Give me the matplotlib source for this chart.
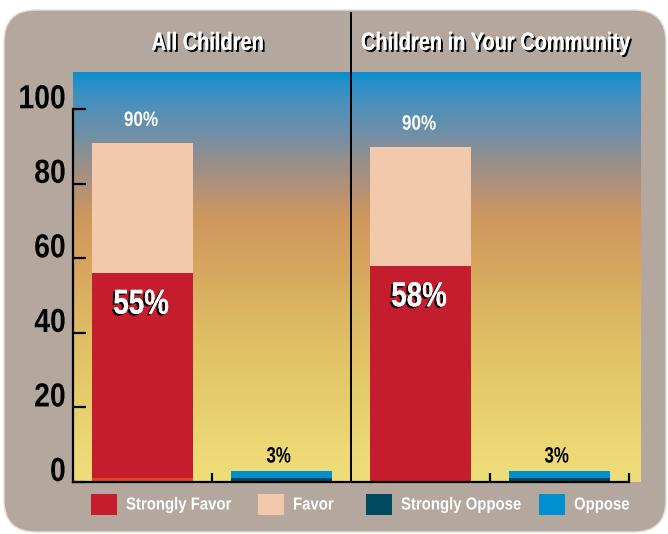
import numpy as np
import matplotlib
matplotlib.use("Agg")
import matplotlib.pyplot as plt
import matplotlib.patheffects as pe
from matplotlib.colors import LinearSegmentedColormap
from matplotlib.patches import FancyBboxPatch, Rectangle
from matplotlib.transforms import ScaledTranslation, Affine2D

# data
groups = ["All Children", "Children in Your Community"]
strongly_favor = [55, 58]
favor = [35, 32]
other = [1, 0]          # thin orange strip under the first bar
strongly_oppose = [1, 1]
oppose = [2, 2]
favor_labels = ["90%", "90%"]
strong_labels = ["55%", "58%"]
oppose_labels = ["3%", "3%"]
yticks = [0, 20, 40, 60, 80, 100]
series = ["Strongly Favor", "Favor", "Strongly Oppose", "Oppose"]

plt.rcParams["font.family"] = ["Liberation Sans", "DejaVu Sans"]

c_sf = "#c41e2e"
c_f = "#f2c9aa"
c_so = "#004a60"
c_o = "#0090d0"
c_other = "#e0471f"
series_colors = [c_sf, c_f, c_so, c_o]
bg = "#b3a79e"


class Squeeze(pe.AbstractPathEffect):
    """squash text horizontally to fake a condensed face"""
    def __init__(self, sx, anchor="center", inner=None):
        super().__init__()
        self.sx = sx
        self.anchor = anchor
        self.inner = inner or [pe.Normal()]

    def draw_path(self, renderer, gc, tpath, affine, rgbFace=None):
        xs = tpath.vertices[:, 0]
        if self.anchor == "right":
            cx = xs.max()
        elif self.anchor == "left":
            cx = xs.min()
        else:
            cx = (xs.min() + xs.max()) / 2
        squeezed = Affine2D().translate(-cx, 0).scale(self.sx, 1).translate(cx, 0) + affine
        for eff in self.inner:
            eff.draw_path(renderer, gc, tpath, squeezed, rgbFace)


def shadow(dx, dy):
    return [pe.withSimplePatchShadow(offset=(dx, dy), shadow_rgbFace="black", alpha=1),
            pe.Normal()]


fig = plt.figure(figsize=(6.68, 5.34), dpi=100)

# rounded background panel
panel = FancyBboxPatch((0.04, 0.02), 6.62, 5.22,
                       boxstyle="round,pad=0,rounding_size=0.32",
                       transform=fig.dpi_scale_trans, facecolor=bg,
                       edgecolor="#e6ded6", linewidth=1, zorder=-10)
fig.patches.append(panel)

ax = fig.add_axes([73 / 668, 52 / 534, 568 / 668, 410 / 534])
ax.set_facecolor("none")
xmax = 3.586
ax.set_xlim(-0.5, xmax)
ax.set_ylim(0, 110)

# sky-like gradient background
stops = [(0, "#eedd7a"), (8, "#edd977"), (22, "#e6cd6c"), (40, "#dfbd64"),
         (59, "#d6a45e"), (72, "#cc975f"), (79, "#b39178"), (86, "#988f8a"),
         (94, "#6e8fa8"), (102, "#4a91bd"), (107, "#2a90c8"), (110, "#0a8ecf")]
cmap = LinearSegmentedColormap.from_list("sky", [(v / 110, c) for v, c in stops])
grad = np.linspace(0, 1, 400).reshape(-1, 1)
ax.imshow(grad, extent=[-0.5, xmax, 0, 110], origin="lower", aspect="auto",
          cmap=cmap, zorder=0)

x = np.arange(len(groups)) * 2
xo = x + 1
w = 0.72
other = np.array(other)
strongly_favor = np.array(strongly_favor)
favor = np.array(favor)

ax.bar(x, other, w, color=c_other, zorder=2)
ax.bar(x, strongly_favor, w, bottom=other, color=c_sf, zorder=2)
ax.bar(x, favor, w, bottom=other + strongly_favor, color=c_f, zorder=2)
ax.bar(xo, strongly_oppose, w, color=c_so, zorder=2)
ax.bar(xo, oppose, w, bottom=strongly_oppose, color=c_o, zorder=2)

top = other + strongly_favor + favor
for i in range(len(groups)):
    ax.text(x[i] - 0.01, top[i] + 6, favor_labels[i], ha="center", va="center",
            color="white", fontsize=15, fontweight="bold", zorder=5,
            path_effects=[Squeeze(0.82)])
    ax.text(x[i] - 0.01, other[i] + strongly_favor[i] - 8.3, strong_labels[i],
            ha="center", va="center", color="white", fontsize=25, fontweight="bold",
            zorder=5, path_effects=[Squeeze(0.8, inner=shadow(-1.5, -1.2))])
    ax.text(xo[i] - 0.02, strongly_oppose[i] + oppose[i] + 3.7, oppose_labels[i],
            ha="center", va="center", color="black", fontsize=16, fontweight="bold",
            zorder=5, path_effects=[Squeeze(0.76)])

# group titles
for gx, name in zip([0.47, 2.54], groups):
    ax.text(gx, 117.8, name, ha="center", va="center", color="white",
            fontsize=18, fontweight="bold", clip_on=False, zorder=5,
            path_effects=[Squeeze(0.8, inner=shadow(1.4, -1.4))])

# divider between the two groups
ax.axvline(1.5, ymin=0, ymax=(482 - 13) / 410, color="black", lw=1.4,
           clip_on=False, zorder=6)

for s in ["top", "right"]:
    ax.spines[s].set_visible(False)
ax.spines["left"].set_bounds(0, 100)
ax.spines["bottom"].set_bounds(-0.5, 3.5)
for s in ["left", "bottom"]:
    ax.spines[s].set_linewidth(1.6)
    ax.spines[s].set_zorder(7)

ax.set_xticks([0.5, 2.5, 3.5])
ax.tick_params(axis="x", direction="in", length=6.5, width=1.6, labelbottom=False)
ax.set_yticks(yticks)
ax.set_yticklabels([str(t) for t in yticks])
ax.tick_params(axis="y", direction="in", length=9.5, width=1.6, pad=5)
off = ScaledTranslation(0, 0.13, fig.dpi_scale_trans)
for lab in ax.get_yticklabels():
    lab.set_fontsize(24)
    lab.set_fontweight("bold")
    lab.set_transform(lab.get_transform() + off)
    lab.set_path_effects([Squeeze(0.85, anchor="right")])

# legend drawn by hand so the squeezed labels sit at the right spots
W, H = 668, 534
box_x = [91, 258, 366, 539]
for bx, name, col in zip(box_x, series, series_colors):
    fig.add_artist(Rectangle((bx / W, (534 - 515) / H), 26 / W, 21 / H,
                             transform=fig.transFigure, facecolor=col, edgecolor="none"))
    fig.text((bx + 35) / W, (534 - 505) / H, name, ha="left", va="center",
             color="white", fontsize=12.5, fontweight="bold",
             path_effects=[Squeeze(0.86, anchor="left")])

fig.savefig("out.png", dpi=100)
